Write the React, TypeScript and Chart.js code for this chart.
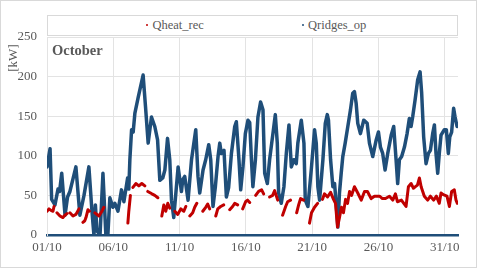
import React, { useEffect, useRef } from "react";
import { Chart, registerables } from "chart.js";

Chart.register(...registerables);

const xTickDays = [0, 5, 10, 15, 20, 25, 30];
const xTickLabels = ["01/10", "06/10", "11/10", "16/10", "21/10", "26/10", "31/10"];
const yTickValues = [0, 50, 100, 150, 200, 250];

// Qridges_op (blue) — day of month offset (0 = 01/10 00:00) and kW
const ridgesDays = [
  0.0, 0.23, 0.35, 0.6, 0.83, 0.95, 1.11, 1.36, 1.55, 1.73, 2.18, 2.48, 2.79, 3.16, 3.39, 3.54, 3.65, 3.77, 4.0,
  4.22, 4.44, 4.59, 4.74, 4.97, 5.12, 5.35, 5.62, 5.8, 6.08, 6.17, 6.25, 6.38, 6.5, 6.63, 6.87, 7.25, 7.43,
  7.63, 7.88, 8.13, 8.34, 8.51, 8.73, 8.89, 9.09, 9.26, 9.39, 9.56, 9.89, 10.14, 10.24, 10.39, 10.64, 10.9,
  11.22, 11.39, 11.52, 11.77, 11.97, 12.2, 12.35, 12.52, 12.7, 12.9, 13.03, 13.15, 13.35, 13.53, 13.7, 13.91,
  14.16, 14.28, 14.48, 14.61, 14.78, 14.96, 15.16, 15.29, 15.42, 15.53, 15.72, 15.91, 16.11, 16.29, 16.42,
  16.62, 16.79, 17.04, 17.22, 17.37, 17.47, 17.67, 17.87, 18.05, 18.25, 18.43, 18.62, 18.8, 18.92, 19.18,
  19.38, 19.48, 19.68, 19.93, 20.18, 20.31, 20.43, 20.56, 20.81, 20.99, 21.14, 21.23, 21.39, 21.56, 21.69,
  21.81, 21.94, 22.06, 22.19, 22.31, 22.49, 22.69, 22.89, 23.06, 23.19, 23.32, 23.44, 23.64, 23.89, 24.15,
  24.32, 24.57, 24.83, 25.0, 25.15, 25.32, 25.5, 25.7, 25.96, 26.15, 26.33, 26.45, 26.58, 26.75, 26.96,
  27.16, 27.33, 27.46, 27.58, 27.76, 27.96, 28.14, 28.26, 28.41, 28.59, 28.77, 28.92, 29.09, 29.22, 29.34,
  29.47, 29.59, 29.72, 29.97, 30.12, 30.27, 30.38, 30.52, 30.67, 30.78, 30.93,
];
const ridgesKW = [
  86, 109, 45, 38, 58, 55, 78, 25, 48, 55, 86, 25, 50, 86, 30, 0, 38, 5, 0,
  78, 0, 0, 47, 35, 40, 30, 57, 42, 72, 58, 95, 133, 130, 154, 173, 202, 162,
  116, 149, 137, 120, 69, 72, 82, 122, 95, 44, 22, 86, 55, 70, 74, 44, 95,
  133, 74, 53, 82, 95, 114, 95, 36, 61, 99, 116, 103, 107, 48, 60, 103,
  137, 143, 95, 57, 86, 128, 145, 142, 95, 61, 95, 149, 168, 158, 78,
  65, 95, 128, 152, 116, 53, 40, 61, 103, 139, 86, 95, 90, 116, 145,
  116, 44, 36, 82, 133, 116, 61, 44, 95, 141, 152, 145, 95, 61, 65,
  40, 10, 53, 78, 99, 116, 137, 158, 179, 181, 166, 141, 128, 145, 141,
  116, 99, 120, 130, 111, 103, 82, 103, 126, 137, 95, 65, 95, 99, 111,
  128, 147, 137, 149, 170, 196, 206, 179, 124, 90, 103, 107, 128, 139, 103,
  78, 103, 126, 133, 133, 103, 124, 130, 160, 149, 137,
];

// Qheat_rec (red) — null marks a gap between daily segments
const heatDays = [
  0.0, 0.15, 0.3, 0.45, 0.53, 0.64,
  0.75, 0.98, 1.2, 1.35, 1.51, 1.62,
  1.73, 1.96, 2.18, 2.41, 2.56,
  2.71, 2.85, 2.94, 3.09, 3.2, 3.4,
  3.61, 3.92, 4.14, 4.29, 5.2,
  6.1, 6.17, 6.29, 6.38,
  6.48, 6.7, 6.93, 7.15, 7.38, 7.5,
  7.6, 7.91, 8.13, 8.36, 8.5,
  8.66, 8.81, 8.96, 9.11, 9.26, 9.45,
  9.64, 9.86, 10.09, 10.32, 10.47, 10.6,
  10.77, 10.99, 11.14, 11.3, 11.5,
  11.75, 11.97, 12.12, 12.27, 12.5,
  12.73, 12.88, 13.1, 13.33, 13.55,
  13.78, 14.0, 14.16, 14.38, 14.6,
  14.76, 14.98, 15.13, 15.29, 15.5,
  15.74, 15.96, 16.19, 16.34, 16.55,
  16.79, 17.02, 17.17, 17.4, 17.6,
  17.77, 18.0, 18.15, 18.37, 18.6,
  18.83, 18.98, 19.13, 19.35, 19.6,
  19.8, 19.95, 20.18, 20.41, 20.6,
  20.78, 20.93, 21.16, 21.39, 21.61, 21.76, 21.91, 22.06, 22.21, 22.36, 22.52, 22.67, 22.82, 22.97,
  23.19, 23.44, 23.7, 23.95, 24.17, 24.45, 24.7, 25.08, 25.3, 25.53, 25.83, 26.08, 26.28, 26.43,
  26.73, 27.08, 27.26, 27.46, 27.64, 27.79, 27.94, 28.09, 28.22, 28.46, 28.71, 28.92, 29.16, 29.37,
  29.59, 29.72, 29.89, 30.17, 30.35, 30.52, 30.72, 30.85, 30.95,
];
const heatKW = [
  30, 33, 31, 30, 36, null,
  28, 24, 22, 25, 27, null,
  28, 24, 26, 33, null,
  16, 18, 22, 32, 30, null,
  28, 24, 30, 35, null,
  15, 30, 50, null,
  60, 65, 62, 65, 62, null,
  55, 52, 50, 47, null,
  24, 38, 30, 40, 34, null,
  30, 26, 33, 30, 36, null,
  24, 28, 35, 40, null,
  30, 35, 39, 33, null,
  24, 33, 36, 38, null,
  32, 36, 40, 38, null,
  33, 42, 44, 41, null,
  50, 55, 57, 52, null,
  48, 50, 56, 44, null,
  25, 36, 42, 44, null,
  28, 38, 46, 44, null,
  15, 28, 35, 40, null,
  45, 52, 48, 54, 45, 40, 10, 22, 35, 28, 45, 40, 55, 50,
  61, 53, 44, 55, 55, 46, 49, 49, 46, 46, 49, 44, 52, 42,
  44, 36, 61, 65, 59, 61, 63, 72, 61, 49, 44, 49, 44, 49,
  40, 53, 51, 49, 36, 55, 57, 44, 40,
];

const BLUE = "#1f4e79";
const RED = "#c00000";
const GRID = "#e3e3e3";
const TEXT = "#595959";
const FONT = "'Liberation Serif', 'Times New Roman', serif";

export default function App() {
  const canvasRef = useRef<HTMLCanvasElement | null>(null);

  useEffect(() => {
    document.body.style.margin = "0";
    const canvas = canvasRef.current;
    if (!canvas) return;
    const heatData = heatDays.map((d, i) => ({ x: d, y: heatKW[i] }));
    const ridgesData = ridgesDays.map((d, i) => ({ x: d, y: ridgesKW[i] }));
    const chart = new Chart(canvas, {
      type: "scatter",
      data: {
        datasets: [
          {
            label: "Qheat_rec",
            data: heatData as any,
            showLine: true,
            borderColor: RED,
            backgroundColor: RED,
            borderWidth: 3,
            borderJoinStyle: "round",
            borderCapStyle: "round",
            pointRadius: 0,
            tension: 0,
            spanGaps: false,
          },
          {
            label: "Qridges_op",
            data: ridgesData,
            showLine: true,
            borderColor: BLUE,
            backgroundColor: BLUE,
            borderWidth: 3.5,
            borderJoinStyle: "round",
            borderCapStyle: "round",
            pointRadius: 0,
            tension: 0,
          },
        ],
      },
      options: {
        animation: false,
        responsive: false,
        devicePixelRatio: 1,
        layout: { padding: { left: 0, top: 37, right: 22, bottom: 0 } },
        plugins: { legend: { display: false }, tooltip: { enabled: false }, title: { display: false } },
        scales: {
          x: {
            type: "linear",
            min: 0,
            max: 31,
            afterBuildTicks: (scale: any) => {
              scale.ticks = xTickDays.map((v) => ({ value: v }));
            },
            afterFit: (scale: any) => {
              scale.height = 36;
            },
            ticks: {
              padding: 5,
              color: TEXT,
              font: { family: FONT, size: 13 },
              maxRotation: 0,
              callback: (v: any) => {
                const i = xTickDays.indexOf(Number(v));
                return i >= 0 ? xTickLabels[i] : "";
              },
            },
            grid: { color: GRID, lineWidth: 1, drawTicks: false },
            border: { display: true, color: BLUE, width: 2.5 },
          },
          y: {
            type: "linear",
            min: 0,
            max: 250,
            afterBuildTicks: (scale: any) => {
              scale.ticks = yTickValues.map((v) => ({ value: v }));
            },
            afterFit: (scale: any) => {
              scale.width = 47;
            },
            ticks: {
              padding: 10,
              color: TEXT,
              font: { family: FONT, size: 13 },
            },
            grid: { color: GRID, lineWidth: 1, drawTicks: false },
            border: { display: true, color: GRID, width: 1 },
          },
        },
      },
    });
    return () => chart.destroy();
  }, []);

  return (
    <div style={{ position: "absolute", left: 0, top: 0, width: 480, height: 271, fontFamily: FONT, background: "#fff" }}>
      <canvas ref={canvasRef} width={480} height={271} style={{ position: "absolute", left: 0, top: 0 }} />
      <div
        style={{
          position: "absolute",
          left: 0,
          top: 0,
          width: 477,
          height: 268,
          border: "1px solid #d9d9d9",
          boxSizing: "border-box",
          pointerEvents: "none",
        }}
      />
      <div
        style={{
          position: "absolute",
          left: 47,
          top: 15,
          width: 411,
          height: 21,
          border: "1px solid #d9d9d9",
          boxSizing: "border-box",
          background: "#fff",
        }}
      />
      <div style={{ position: "absolute", left: 146, top: 24, width: 2, height: 2, borderRadius: 1, background: RED }} />
      <div style={{ position: "absolute", left: 152.5, top: 16, fontSize: 12.5, lineHeight: "18px", color: TEXT, whiteSpace: "nowrap" }}>
        Qheat_rec
      </div>
      <div style={{ position: "absolute", left: 302, top: 24, width: 2, height: 2, borderRadius: 1, background: BLUE }} />
      <div style={{ position: "absolute", left: 308, top: 16, fontSize: 12.5, lineHeight: "18px", color: TEXT, whiteSpace: "nowrap" }}>
        Qridges_op
      </div>
      <div
        style={{
          position: "absolute",
          left: 13,
          top: 58,
          transform: "translate(-50%, -50%) rotate(-90deg)",
          fontSize: 13,
          color: TEXT,
          whiteSpace: "nowrap",
        }}
      >
        [kW]
      </div>
      <div
        style={{
          position: "absolute",
          left: 52,
          top: 40,
          fontSize: 14.5,
          fontWeight: "bold",
          color: TEXT,
          whiteSpace: "nowrap",
          lineHeight: "20px",
        }}
      >
        October
      </div>
    </div>
  );
}
